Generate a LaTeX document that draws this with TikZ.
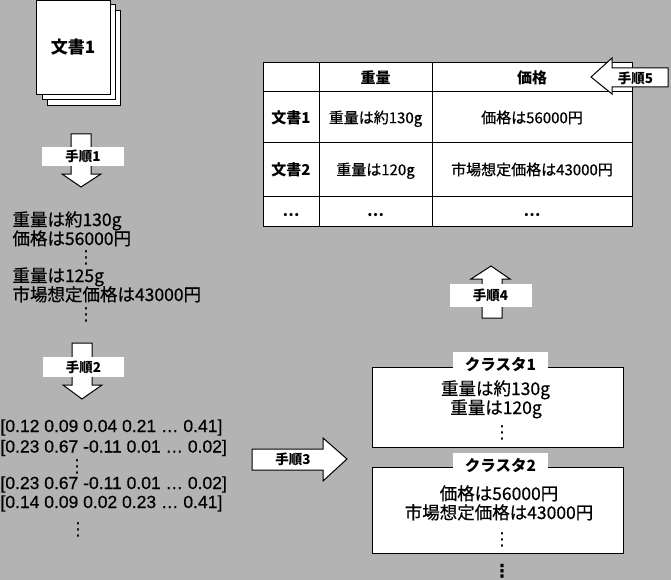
\documentclass[tikz,border=0pt]{standalone}
\usepackage{fontspec}
\setmainfont{Noto Sans CJK JP}
\newfontfamily\bodyf[FakeBold=0.6]{Noto Sans CJK JP}
\newfontfamily\latf[FakeBold=0.6]{Liberation Sans}
\newfontfamily\symf{DejaVu Sans}
\definecolor{bg}{RGB}{179,179,179}
\begin{document}
\begin{tikzpicture}[x=1pt,y=-1pt,line width=1pt,
  txt/.style={inner sep=0pt,anchor=base west,font=\bodyf\fontsize{17.5}{20}\selectfont},
  vtxt/.style={inner sep=0pt,anchor=base west,font=\latf\fontsize{17.5}{20}\selectfont},
  ctxt/.style={inner sep=0pt,anchor=base,font=\bodyf\fontsize{17.5}{20}\selectfont},
  lbl/.style={fill=white,inner sep=0pt,font=\bfseries\fontsize{13.5}{15}\selectfont},
  lbltxt/.style={inner sep=0pt,font=\bfseries\fontsize{13.5}{15}\selectfont},
  page/.style={draw,fill=white,inner sep=0pt},
  cell/.style={draw,fill=white,inner sep=0pt,text height=13.2pt,text depth=1.8pt,font=\bodyf\fontsize{15}{17}\selectfont},
  hcell/.style={cell,font=\bfseries\fontsize{15}{17}\selectfont},
  box/.style={draw,fill=white,inner sep=0pt},
  boxlbl/.style={fill=white,inner sep=0pt,minimum width=95pt,minimum height=24pt,text height=14pt,text depth=2pt,font=\bfseries\fontsize{15.5}{18}\selectfont},
  vd/.style={inner sep=0pt,font=\symf\fontsize{18}{18}\selectfont},
  blockarrow/.style={draw,fill=white,line join=miter}]
\fill[bg] (0,0) rectangle (671,580);
\useasboundingbox (0,0) rectangle (671,580);

% document stack
\node[page,minimum width=73pt,minimum height=95pt] (doc3) at (83.5,58.5) {};
\node[page,minimum width=73pt,minimum height=95pt] (doc2) at (78.5,52.5) {};
\node[page,minimum width=74pt,minimum height=93.5pt,font=\bfseries\fontsize{17}{19}\selectfont] (doc1) at (73,47.5) {文書1};

% step 1
\draw[blockarrow] (71,134) -- (91,134) -- (91,174) -- (101,174) -- (81,187) -- (62,174) -- (71,174) -- cycle;
\node[lbl,minimum width=82pt,minimum height=19pt] (s1) at (83,156.5) {手順1};

% extracted sentences
\node[txt] (t1) at (12,226) {重量は約130g};
\node[txt] (t2) at (12,245) {価格は56000円};
\node[vd] (d1) at (86,257.5) {⋮};
\node[txt] (t3) at (12,282) {重量は125g};
\node[txt] (t4) at (12,301) {市場想定価格は43000円};
\node[vd] (d2) at (86,315) {⋮};

% step 2
\draw[blockarrow] (72,343) -- (92,343) -- (92,385) -- (102,385) -- (82,399) -- (63,385) -- (72,385) -- cycle;
\node[lbl,minimum width=81pt,minimum height=20pt] (s2) at (83.5,367) {手順2};

% vectors
\node[vtxt] (v1) at (0,432) {[0.12 0.09 0.04 0.21 … 0.41]};
\node[vtxt] (v2) at (0,452.5) {[0.23 0.67 -0.11 0.01 … 0.02]};
\node[vd] (d3) at (77,466.5) {⋮};
\node[vtxt] (v3) at (0,489) {[0.23 0.67 -0.11 0.01 … 0.02]};
\node[vtxt] (v4) at (0,508) {[0.14 0.09 0.02 0.23 … 0.41]};
\node[vd] (d4) at (78,530) {⋮};

% step 3
\draw[blockarrow] (252,449) -- (323,449) -- (323,438) -- (347,459) -- (323,481) -- (323,470) -- (252,470) -- cycle;
\node[lbltxt] (s3) at (293,459.5) {手順3};

% clusters
\node[box,minimum width=251pt,minimum height=80pt] (c1) at (497.5,407) {};
\node[boxlbl] (c1l) at (500.5,364) {クラスタ1};
\node[ctxt] (c1a) at (495.5,395) {重量は約130g};
\node[ctxt] (c1b) at (496,414) {重量は120g};
\node[vd] (d5) at (502,432.5) {⋮};

\node[box,minimum width=251pt,minimum height=86pt] (c2) at (497.5,510) {};
\node[boxlbl] (c2l) at (500.5,465) {クラスタ2};
\node[ctxt] (c2a) at (499,500) {価格は56000円};
\node[ctxt] (c2b) at (499,519) {市場想定価格は43000円};
\node[vd] (d6) at (502,539.5) {⋮};

\node[vd,font=\symf\bfseries\fontsize{18}{18}\selectfont] (d7) at (502,571.5) {⋮};

% step 4
\draw[blockarrow] (491,266) -- (510,279) -- (502,279) -- (502,318) -- (482,318) -- (482,279) -- (471,279) -- cycle;
\node[lbl,minimum width=82pt,minimum height=23pt] (s4) at (490.5,295.5) {手順4};

% table
\node[hcell,minimum width=56pt,minimum height=29pt] (h0) at (291,77.5) {};
\node[hcell,minimum width=113pt,minimum height=29pt] (h1) at (375.5,77.5) {重量};
\node[hcell,minimum width=200pt,minimum height=29pt] (h2) at (532,77.5) {価格};
\node[hcell,minimum width=56pt,minimum height=51pt] (r1c0) at (291,117.5) {文書1};
\node[cell,minimum width=113pt,minimum height=51pt] (r1c1) at (375.5,117.5) {重量は約130g};
\node[cell,minimum width=200pt,minimum height=51pt] (r1c2) at (532,117.5) {価格は56000円};
\node[hcell,minimum width=56pt,minimum height=53pt] (r2c0) at (291,169.5) {文書2};
\node[cell,minimum width=113pt,minimum height=53pt] (r2c1) at (375.5,169.5) {重量は120g};
\node[cell,minimum width=200pt,minimum height=53pt] (r2c2) at (532,169.5) {市場想定価格は43000円};
\node[hcell,minimum width=56pt,minimum height=30pt] (r3c0) at (291,211) {…};
\node[hcell,minimum width=113pt,minimum height=30pt] (r3c1) at (375.5,211) {…};
\node[hcell,minimum width=200pt,minimum height=30pt] (r3c2) at (532,211) {…};

% step 5
\draw[blockarrow] (591,77) -- (612,58) -- (612,68) -- (668,68) -- (668,87) -- (612,87) -- (612,94) -- cycle;
\node[lbltxt] (s5) at (635.5,78) {手順5};
\end{tikzpicture}
\end{document}
